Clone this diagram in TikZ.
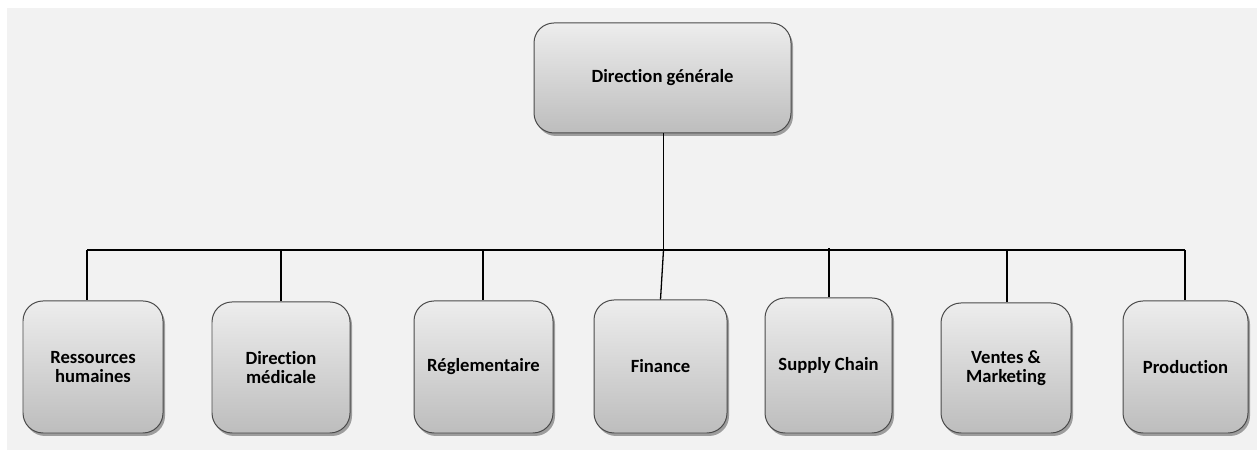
\documentclass[tikz,border=0pt]{standalone}
\usepackage{fontspec}
\setmainfont{Carlito}[Ligatures=NoCommon]
\usetikzlibrary{shadows,positioning}
\definecolor{bggrey}{HTML}{F2F2F2}
\definecolor{boxtop}{HTML}{EDEDED}
\definecolor{boxbot}{HTML}{BDBDBD}
\definecolor{boxline}{HTML}{4A4A4A}
\tikzset{
  orgbox/.style={draw=boxline, line width=1pt, rounded corners=20bp,
    top color=boxtop, bottom color=boxbot, align=center,
    font=\fontsize{18.7}{19}\selectfont\bfseries, text=black,
    inner sep=0pt,
    drop shadow={shadow xshift=2bp, shadow yshift=-3bp, opacity=0.35, fill=black}},
  link/.style={draw=black, line width=1.3pt}
}
\begin{document}
\begin{tikzpicture}[x=1bp,y=-1bp]
\useasboundingbox (0,0) rectangle (1258,450);
\fill[white] (0,0) rectangle (1258,450);
\fill[bggrey] (7,8) rectangle (1257,450);
% top box
\node[orgbox, minimum width=257bp, minimum height=110bp] (dg) at (662.5,78) {\raisebox{1bp}{Direction générale}};
% bottom boxes
\node[orgbox, minimum width=140bp, minimum height=132bp] (rh) at (93,367) {Ressources\\humaines};
\node[orgbox, minimum width=138bp, minimum height=131bp] (dm) at (281,367.5) {Direction\\médicale};
\node[orgbox, minimum width=139bp, minimum height=132bp] (reg) at (483.5,367) {\raisebox{-2bp}{Réglementaire}};
\node[orgbox, minimum width=133bp, minimum height=133bp] (fin) at (660.5,366.5) {Finance};
\node[orgbox, minimum width=127bp, minimum height=135bp] (sc) at (828.5,365.5) {\raisebox{1bp}{Supply Chain}};
\node[orgbox, minimum width=130bp, minimum height=130bp] (vm) at (1006,368) {Ventes \&\\Marketing};
\node[orgbox, minimum width=125bp, minimum height=132bp] (prod) at (1185.5,367) {Production};
% connectors
\coordinate (busL) at (87,250);
\coordinate (busR) at (1185,250);
\coordinate (busC) at (663.5,250);
\draw[link] (dg.south -| busC) -- (busC);
\draw[link] (busL) -- (busR);
\draw[link] (busL) -- (busL |- rh.north);
\draw[link] (281,250) -- (281,0 |- dm.north);
\draw[link] (483,250) -- (483,0 |- reg.north);
\draw[link] (busC) -- (fin.north);
\draw[link] (829,248) -- (829,0 |- sc.north);
\draw[link] (1007,250) -- (1007,0 |- vm.north);
\draw[link] (busR) -- (busR |- prod.north);
\end{tikzpicture}
\end{document}
